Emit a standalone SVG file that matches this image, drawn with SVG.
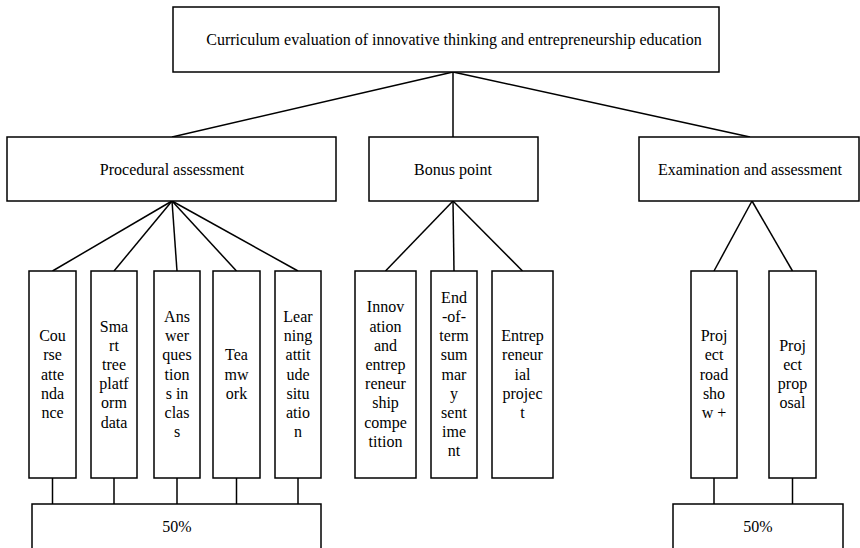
<svg xmlns="http://www.w3.org/2000/svg" width="860" height="548" viewBox="0 0 860 548">
  <style>
    .box { fill: #ffffff; stroke: #000000; stroke-width: 1.5; }
    .link { fill: none; stroke: #000000; stroke-width: 1.5; }
    .lbl { font-family: "Liberation Serif", "Times New Roman", serif; font-size: 16px; fill: #000000; text-anchor: middle; }
  </style>
  <rect x="0" y="0" width="860" height="548" fill="#ffffff"/>

  <!-- connectors -->
  <g id="connectors" class="link">
    <!-- root to second level -->
    <line x1="453" y1="72" x2="172" y2="137"/>
    <line x1="453" y1="72" x2="453" y2="137"/>
    <line x1="453" y1="72" x2="750" y2="137"/>
    <!-- procedural assessment to its items -->
    <line x1="172" y1="201" x2="52.5" y2="271"/>
    <line x1="172" y1="201" x2="114" y2="271"/>
    <line x1="172" y1="201" x2="177" y2="271"/>
    <line x1="172" y1="201" x2="236.5" y2="271"/>
    <line x1="172" y1="201" x2="298" y2="271"/>
    <!-- bonus point to its items -->
    <line x1="453" y1="201" x2="385.5" y2="271"/>
    <line x1="453" y1="201" x2="454" y2="271"/>
    <line x1="453" y1="201" x2="522.5" y2="271"/>
    <!-- examination to its items -->
    <line x1="752" y1="201" x2="714" y2="271"/>
    <line x1="752" y1="201" x2="792.5" y2="271"/>
    <!-- items to weight boxes -->
    <line x1="52.5" y1="478" x2="52.5" y2="504"/>
    <line x1="114" y1="478" x2="114" y2="504"/>
    <line x1="177" y1="478" x2="177" y2="504"/>
    <line x1="236.5" y1="478" x2="236.5" y2="504"/>
    <line x1="298" y1="478" x2="298" y2="504"/>
    <line x1="714" y1="478" x2="714" y2="504"/>
    <line x1="792.5" y1="478" x2="792.5" y2="504"/>
  </g>

  <!-- root -->
  <g id="root">
    <rect class="box" x="173" y="7" width="546" height="65"/>
    <text class="lbl" x="454" y="45">Curriculum evaluation of innovative thinking and entrepreneurship education</text>
  </g>

  <!-- second level -->
  <g id="procedural">
    <rect class="box" x="7" y="137" width="329" height="64"/>
    <text class="lbl" x="172" y="175">Procedural assessment</text>
  </g>
  <g id="bonus">
    <rect class="box" x="369" y="137" width="169" height="64"/>
    <text class="lbl" x="453" y="175">Bonus point</text>
  </g>
  <g id="examination">
    <rect class="box" x="639" y="137" width="220" height="64"/>
    <text class="lbl" x="750" y="175">Examination and assessment</text>
  </g>

  <!-- procedural items -->
  <g id="attendance">
    <rect class="box" x="29" y="271" width="47" height="207"/>
    <text class="lbl" x="52.5" y="341.1"><tspan x="52.5">Cou</tspan><tspan x="52.5" dy="19.2">rse</tspan><tspan x="52.5" dy="19.2">atte</tspan><tspan x="52.5" dy="19.2">nda</tspan><tspan x="52.5" dy="19.2">nce</tspan></text>
  </g>
  <g id="smart-tree">
    <rect class="box" x="91" y="271" width="46" height="207"/>
    <text class="lbl" x="114" y="331.5"><tspan x="114">Sma</tspan><tspan x="114" dy="19.2">rt</tspan><tspan x="114" dy="19.2">tree</tspan><tspan x="114" dy="19.2">platf</tspan><tspan x="114" dy="19.2">orm</tspan><tspan x="114" dy="19.2">data</tspan></text>
  </g>
  <g id="answers">
    <rect class="box" x="154" y="271" width="46" height="207"/>
    <text class="lbl" x="177" y="321.9"><tspan x="177">Ans</tspan><tspan x="177" dy="19.2">wer</tspan><tspan x="177" dy="19.2">ques</tspan><tspan x="177" dy="19.2">tion</tspan><tspan x="177" dy="19.2">s in</tspan><tspan x="177" dy="19.2">clas</tspan><tspan x="177" dy="19.2">s</tspan></text>
  </g>
  <g id="teamwork">
    <rect class="box" x="213" y="271" width="47" height="207"/>
    <text class="lbl" x="236.5" y="360.3"><tspan x="236.5">Tea</tspan><tspan x="236.5" dy="19.2">mw</tspan><tspan x="236.5" dy="19.2">ork</tspan></text>
  </g>
  <g id="attitude">
    <rect class="box" x="275" y="271" width="46" height="207"/>
    <text class="lbl" x="298" y="321.9"><tspan x="298">Lear</tspan><tspan x="298" dy="19.2">ning</tspan><tspan x="298" dy="19.2">attit</tspan><tspan x="298" dy="19.2">ude</tspan><tspan x="298" dy="19.2">situ</tspan><tspan x="298" dy="19.2">atio</tspan><tspan x="298" dy="19.2">n</tspan></text>
  </g>

  <!-- bonus items -->
  <g id="competition">
    <rect class="box" x="355" y="271" width="61" height="207"/>
    <text class="lbl" x="385.5" y="312.3"><tspan x="385.5">Innov</tspan><tspan x="385.5" dy="19.2">ation</tspan><tspan x="385.5" dy="19.2">and</tspan><tspan x="385.5" dy="19.2">entrep</tspan><tspan x="385.5" dy="19.2">reneur</tspan><tspan x="385.5" dy="19.2">ship</tspan><tspan x="385.5" dy="19.2">compe</tspan><tspan x="385.5" dy="19.2">tition</tspan></text>
  </g>
  <g id="summary">
    <rect class="box" x="431" y="271" width="46" height="207"/>
    <text class="lbl" x="454" y="302.7"><tspan x="454">End</tspan><tspan x="454" dy="19.2">-of-</tspan><tspan x="454" dy="19.2">term</tspan><tspan x="454" dy="19.2">sum</tspan><tspan x="454" dy="19.2">mar</tspan><tspan x="454" dy="19.2">y</tspan><tspan x="454" dy="19.2">sent</tspan><tspan x="454" dy="19.2">ime</tspan><tspan x="454" dy="19.2">nt</tspan></text>
  </g>
  <g id="project">
    <rect class="box" x="492" y="271" width="61" height="207"/>
    <text class="lbl" x="522.5" y="341.1"><tspan x="522.5">Entrep</tspan><tspan x="522.5" dy="19.2">reneur</tspan><tspan x="522.5" dy="19.2">ial</tspan><tspan x="522.5" dy="19.2">projec</tspan><tspan x="522.5" dy="19.2">t</tspan></text>
  </g>

  <!-- examination items -->
  <g id="roadshow">
    <rect class="box" x="691" y="271" width="46" height="207"/>
    <text class="lbl" x="714" y="341.1"><tspan x="714">Proj</tspan><tspan x="714" dy="19.2">ect</tspan><tspan x="714" dy="19.2">road</tspan><tspan x="714" dy="19.2">sho</tspan><tspan x="714" dy="19.2">w +</tspan></text>
  </g>
  <g id="proposal">
    <rect class="box" x="769" y="271" width="47" height="207"/>
    <text class="lbl" x="792.5" y="350.7"><tspan x="792.5">Proj</tspan><tspan x="792.5" dy="19.2">ect</tspan><tspan x="792.5" dy="19.2">prop</tspan><tspan x="792.5" dy="19.2">osal</tspan></text>
  </g>

  <!-- weights -->
  <g id="weight-procedural">
    <rect class="box" x="32" y="504" width="289" height="60"/>
    <text class="lbl" x="177" y="532">50%</text>
  </g>
  <g id="weight-examination">
    <rect class="box" x="673" y="504" width="170" height="60"/>
    <text class="lbl" x="758" y="532">50%</text>
  </g>
</svg>
